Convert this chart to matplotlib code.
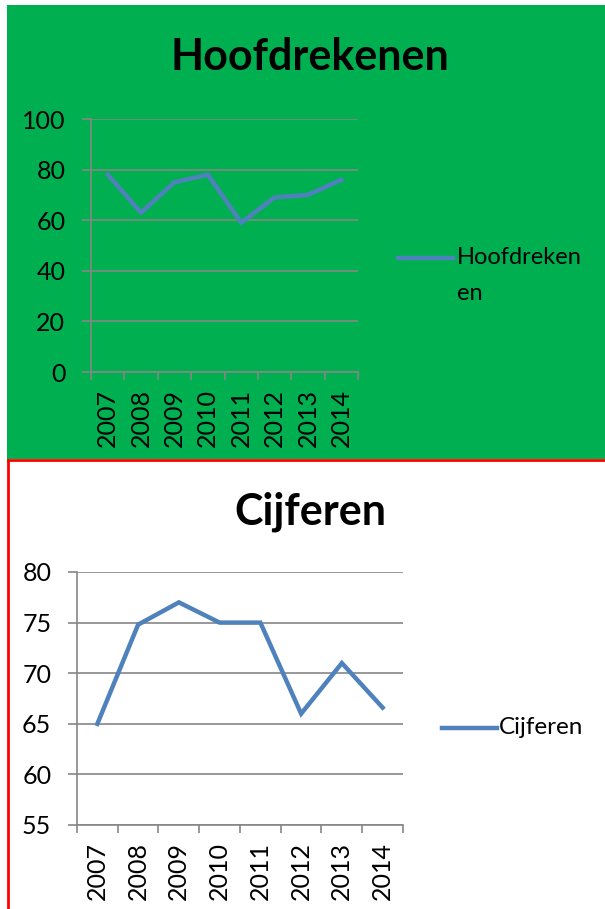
import matplotlib
matplotlib.use("Agg")
import matplotlib.pyplot as plt
from matplotlib.patches import Rectangle
from matplotlib.lines import Line2D
import numpy as np

years = ['2007', '2008', '2009', '2010', '2011', '2012', '2013', '2014']
hoofdrekenen = [78, 63, 75, 78, 59, 69, 70, 76]
cijferen = [65, 74.8, 77, 75, 75, 66, 71, 66.6]

GREEN = '#00B050'
BLUE = '#4F81BD'
GRID = '#868686'
RED = '#FF0000'
W, H = 605, 909

plt.rcParams['font.family'] = ['Lato', 'DejaVu Sans']

fig = plt.figure(figsize=(W / 100, H / 100), dpi=100)
fig.patch.set_facecolor('white')


def fx(px):
    return px / W


def fy(py):
    return 1 - py / H


# green panel behind the first chart
fig.add_artist(Rectangle((fx(7), fy(459)), 1 - fx(7), fy(5) - fy(459),
                         transform=fig.transFigure, facecolor=GREEN,
                         edgecolor='none', zorder=0))
# red border of second chart
fig.add_artist(Line2D([fx(8), 1], [fy(460), fy(460)], transform=fig.transFigure,
                      color=RED, lw=2, zorder=1))
fig.add_artist(Line2D([fx(8), fx(8)], [fy(460), 0], transform=fig.transFigure,
                      color=RED, lw=2, zorder=1))


def line_chart(rect, values, ymin, ymax, step, bg):
    ax = fig.add_axes(rect)
    ax.set_facecolor(bg)
    if bg == 'none':
        ax.patch.set_alpha(0)
    x = np.arange(len(years))
    ax.plot(x, values, color=BLUE, lw=3.2, solid_joinstyle='miter', zorder=3)
    ax.set_xlim(-0.5, len(years) - 0.5)
    ax.set_ylim(ymin, ymax)
    ax.set_yticks(np.arange(ymin, ymax + step / 2, step))
    ax.yaxis.grid(True, color=GRID, lw=1.2)
    ax.set_axisbelow(True)
    ax.set_xticks(x)
    ax.set_xticklabels(years, rotation=90, fontsize=18)
    ax.set_xticks(np.arange(-0.5, len(years)), minor=True)
    ax.tick_params(axis='x', which='major', length=0, pad=12)
    ax.tick_params(axis='x', which='minor', length=6, width=1.2, color=GRID)
    ax.tick_params(axis='y', length=6.5, width=1.2, color=GRID, labelsize=18, pad=12)
    for s in ['top', 'right']:
        ax.spines[s].set_visible(False)
    for s in ['left', 'bottom']:
        ax.spines[s].set_color(GRID)
        ax.spines[s].set_linewidth(1.2)
    return ax


ax1 = line_chart([fx(91), fy(372), fx(358) - fx(91), fy(119) - fy(372)],
                 hoofdrekenen, 0, 100, 20, 'none')
ax2 = line_chart([fx(77), fy(825), fx(403) - fx(77), fy(572) - fy(825)],
                 cijferen, 55, 80, 5, 'white')

fig.text(fx(310), fy(57), 'Hoofdrekenen', fontsize=31, fontweight='bold',
         ha='center', va='center')
fig.text(fx(310), fy(512), 'Cijferen', fontsize=31, fontweight='bold',
         ha='center', va='center')

# legends
fig.add_artist(Line2D([fx(398), fx(453)], [fy(258), fy(258)], transform=fig.transFigure,
                      color=BLUE, lw=3.2))
fig.text(fx(457), fy(258), 'Hoofdreken', fontsize=17, ha='left', va='center')
fig.text(fx(457), fy(293), 'en', fontsize=17, ha='left', va='center')
fig.add_artist(Line2D([fx(442), fx(497)], [fy(728), fy(728)], transform=fig.transFigure,
                      color=BLUE, lw=3.2))
fig.text(fx(499), fy(728), 'Cijferen', fontsize=17.5, ha='left', va='center')

fig.savefig('out.png', dpi=100)
